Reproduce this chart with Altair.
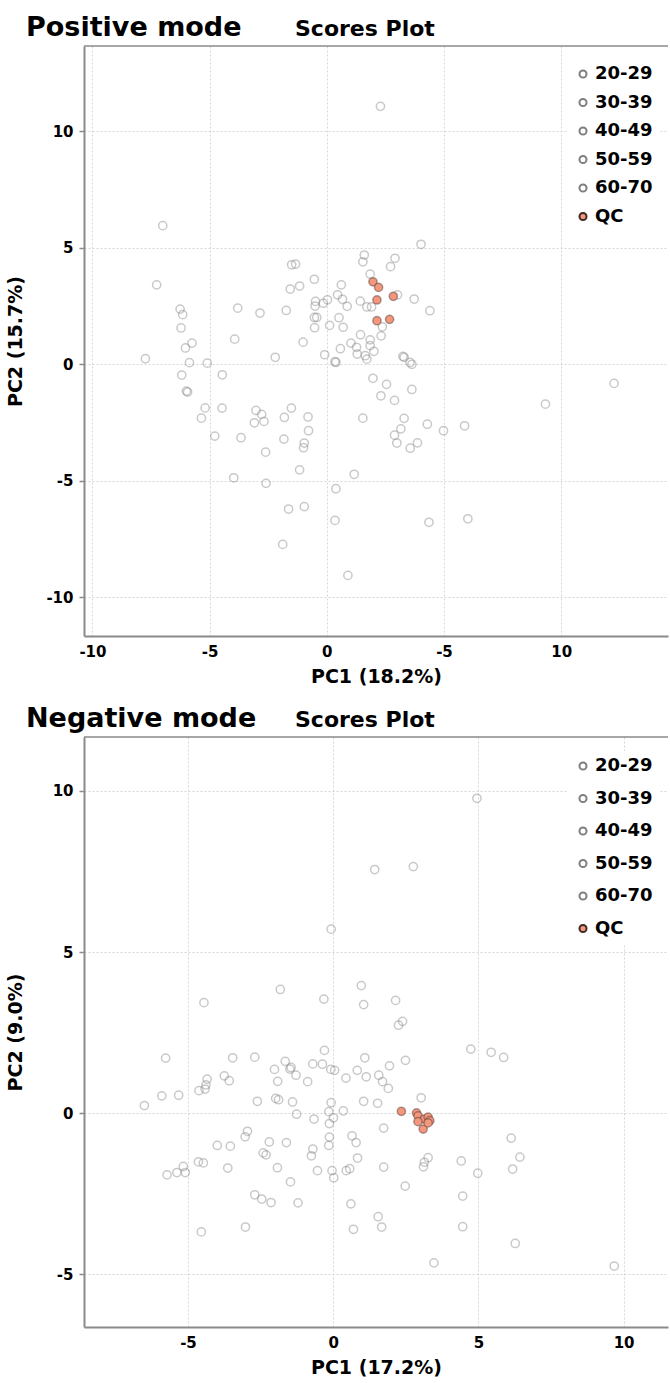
import altair as alt
import pandas as pd

GROUPS = ["20-29", "30-39", "40-49", "50-59", "60-70", "QC"]

# ---------------- Positive mode (PC1, PC2) ----------------
pos_20_29 = [(-7.00, 5.94), (-7.26, 3.40), (-1.50, 4.26), (-1.33, 4.29), (1.60, 4.68), (1.54, 4.39),
             (1.85, 3.86), (-0.53, 3.64), (0.62, 3.40), (-1.56, 3.22), (-1.16, 3.35), (0.46, 2.97),
             (0.67, 2.78), (-0.48, 2.69), (-0.15, 2.61), (0.03, 2.76), (-0.50, 2.49), (0.87, 2.48),
             (1.43, 2.70), (1.71, 2.45), (1.91, 2.45), (-6.26, 2.36), (-6.15, 2.12), (-3.80, 2.40)]
pos_30_39 = [(-2.85, 2.19), (-1.73, 2.30), (-6.22, 1.55), (-0.53, 2.00), (-0.43, 2.00), (0.52, 1.99),
             (0.12, 1.66), (0.70, 1.58), (-0.52, 1.56), (1.44, 1.26), (1.85, 1.04), (-3.93, 1.07),
             (-5.75, 0.90), (-6.03, 0.69), (-1.01, 0.94), (1.03, 0.90), (1.27, 0.72), (0.58, 0.66),
             (1.85, 0.79), (2.01, 0.55), (-7.74, 0.23), (1.30, 0.43), (1.64, 0.36), (1.71, 0.21)]
pos_40_49 = [(-0.09, 0.40), (0.35, 0.10), (0.39, 0.07), (-2.20, 0.29), (-5.86, 0.06), (-5.10, 0.04),
             (2.32, 1.21), (3.25, 0.33), (3.30, 0.29), (3.55, 0.07), (3.63, -0.01), (-6.19, -0.47),
             (-4.46, -0.46), (-5.99, -1.16), (-5.94, -1.20), (1.97, -0.61), (2.55, -0.87), (3.63, -1.09),
             (2.31, -1.36), (2.89, -1.56), (-5.19, -1.88), (-4.47, -1.89), (-5.35, -2.32), (-3.02, -1.99)]
pos_50_59 = [(-2.78, -2.16), (-3.09, -2.52), (-2.68, -2.46), (-1.81, -2.29), (-1.51, -1.89), (-0.80, -2.27),
             (-0.78, -2.86), (1.54, -2.32), (3.30, -2.33), (3.16, -2.78), (4.29, -2.58), (4.98, -2.86),
             (5.88, -2.65), (2.89, -3.05), (2.99, -3.39), (3.56, -3.61), (3.87, -3.38), (-4.78, -3.09),
             (-3.66, -3.16), (-1.83, -3.22), (-0.96, -3.39), (-0.99, -3.59), (-2.61, -3.78), (-1.16, -4.54)]
pos_60_70 = [(1.17, -4.73), (-3.97, -4.88), (-2.59, -5.12), (0.39, -5.35), (-1.63, -6.22), (-0.96, -6.12),
             (0.35, -6.71), (4.36, -6.79), (6.02, -6.64), (-1.88, -7.74), (0.90, -9.07), (2.29, 11.06),
             (4.02, 5.14), (2.91, 4.54), (2.72, 4.18), (3.02, 2.97), (3.73, 2.79), (4.40, 2.29),
             (2.37, 1.60), (9.33, -1.72), (12.26, -0.83)]
pos_qc = [(1.97, 3.53), (2.21, 3.29), (2.14, 2.75), (2.84, 2.91), (2.14, 1.86), (2.68, 1.92)]

# ---------------- Negative mode (PC1, PC2) ----------------
neg_20_29 = [(1.43, 7.56), (-0.07, 5.71), (0.97, 3.96), (-1.82, 3.84), (-4.45, 3.43), (-0.32, 3.54),
             (1.05, 3.37), (4.95, 9.77), (2.76, 7.65), (2.15, 3.50), (2.39, 2.85), (2.25, 2.73),
             (-0.30, 1.95), (-5.77, 1.71), (-3.46, 1.72), (-2.70, 1.74), (1.09, 1.72), (2.49, 1.64),
             (4.74, 1.99), (5.44, 1.89), (5.87, 1.73), (-1.65, 1.61), (-1.45, 1.42), (-1.49, 1.37)]
neg_30_39 = [(-1.28, 1.18), (-0.70, 1.53), (-0.37, 1.52), (-0.08, 1.36), (0.05, 1.33), (-2.02, 1.36),
             (0.83, 1.33), (1.94, 1.47), (-3.75, 1.16), (-3.58, 1.01), (-4.34, 1.06), (-4.38, 0.88),
             (-4.41, 0.75), (-4.62, 0.70), (-1.91, 0.99), (-0.88, 0.98), (0.44, 1.09), (1.14, 1.13),
             (1.57, 1.18), (1.70, 0.98), (1.90, 0.77), (-5.90, 0.54), (-5.32, 0.56), (-6.50, 0.24)]
neg_40_49 = [(-2.61, 0.37), (-1.98, 0.46), (-1.88, 0.42), (-1.40, 0.35), (-0.07, 0.33), (1.05, 0.37),
             (1.53, 0.31), (3.03, 0.48), (-1.26, -0.03), (-0.15, 0.05), (0.35, 0.07), (0.01, -0.14),
             (-0.66, -0.18), (-0.13, -0.32), (1.74, -0.46), (-2.95, -0.56), (-3.03, -0.73), (-0.13, -0.74),
             (-0.15, -1.00), (0.65, -0.70), (0.79, -0.91), (6.13, -0.77), (-3.99, -1.00), (-3.54, -1.02)]
neg_50_59 = [(-2.20, -0.89), (-1.61, -0.91), (-0.70, -1.11), (-0.75, -1.32), (-2.41, -1.23), (-2.31, -1.29),
             (0.84, -1.39), (3.27, -1.38), (3.14, -1.52), (3.11, -1.66), (6.43, -1.36), (-4.64, -1.51),
             (-4.47, -1.54), (-5.16, -1.65), (-5.38, -1.84), (-5.09, -1.84), (-5.72, -1.91), (-3.63, -1.70),
             (-1.92, -1.69), (-0.54, -1.78), (-0.04, -1.78), (0.02, -2.00), (0.45, -1.78), (0.57, -1.72)]
neg_60_70 = [(1.74, -1.67), (4.41, -1.48), (4.98, -1.86), (6.18, -1.73), (-1.47, -2.13), (2.48, -2.26),
             (-2.70, -2.53), (-2.46, -2.66), (-2.14, -2.77), (-1.21, -2.78), (0.61, -2.81), (4.46, -2.57),
             (1.55, -3.21), (1.67, -3.53), (0.70, -3.60), (-3.02, -3.53), (-4.54, -3.68), (4.46, -3.52),
             (6.27, -4.04), (3.47, -4.64), (9.68, -4.74)]
neg_qc = [(2.35, 0.06), (2.87, 0.01), (2.92, -0.08), (3.14, -0.18), (3.27, -0.12), (3.33, -0.23),
          (2.92, -0.26), (3.10, -0.49), (3.27, -0.30)]

POS_TICKS_X = [-10, -5, 0, 5, 10]
POS_TICKS_Y = [-10, -5, 0, 5, 10]
NEG_TICKS_X = [-5, 0, 5, 10]
NEG_TICKS_Y = [-5, 0, 5, 10]

FONT = "DejaVu Sans"
W, H = 584, 590


def make_frame(lists):
    rows = []
    for g, pts in zip(GROUPS, lists):
        for x, y in pts:
            rows.append({"pc1": x, "pc2": y, "group": g, "qc": 1 if g == "QC" else 0})
    return pd.DataFrame(rows)


def panel(df, xdom, ydom, xticks, yticks, xtitle, ytitle, mode, row_pad, legend_y, label_expr):
    legend = alt.Legend(
        title=None, orient="none", legendX=484, legendY=legend_y, fillColor="white",
        padding=6, labelFont=FONT, labelFontWeight="bold", labelFontSize=18,
        labelColor="black", symbolSize=50, symbolStrokeWidth=2, rowPadding=row_pad,
        labelOffset=3, symbolType="circle", symbolOpacity=1,
    )
    xaxis = alt.Axis(
        values=xticks, title=xtitle, grid=True, gridDash=[2, 2], gridColor="#d6d6d6",
        ticks=False, domainColor="#8a8a8a", domainWidth=2, labelFont=FONT,
        labelFontWeight="bold", labelFontSize=15, labelColor="black", labelPadding=8,
        titleFont=FONT, titleFontWeight="bold", titleFontSize=19, titleColor="black",
        titlePadding=8, labelExpr=label_expr,
    )
    yaxis = alt.Axis(
        values=yticks, title=ytitle, grid=True, gridDash=[2, 2], gridColor="#d6d6d6",
        tickSize=5, tickColor="#8a8a8a", tickWidth=1.5, domainColor="#8a8a8a",
        domainWidth=2, labelFont=FONT, labelFontWeight="bold", labelFontSize=15,
        labelColor="black", labelPadding=6, titleFont=FONT, titleFontWeight="bold",
        titleFontSize=19, titleColor="black", titlePadding=19, minExtent=40, maxExtent=40,
        labelExpr="'' + datum.value",
    )
    pts = alt.Chart(df).mark_point(shape="circle", filled=True, size=68, strokeWidth=1.5, opacity=1).encode(
        x=alt.X("pc1:Q", scale=alt.Scale(domain=xdom, nice=False, zero=False), axis=xaxis),
        y=alt.Y("pc2:Q", scale=alt.Scale(domain=ydom, nice=False, zero=False), axis=yaxis),
        fill=alt.Fill("group:N", scale=alt.Scale(domain=GROUPS, range=["transparent"] * 5 + ["#F5977D"]),
                      legend=legend),
        stroke=alt.Stroke("group:N", scale=alt.Scale(domain=GROUPS, range=["#7f7f7f"] * 5 + ["#3f2a25"]),
                          legend=legend),
        strokeOpacity=alt.StrokeOpacity("group:N", scale=alt.Scale(domain=GROUPS, range=[0.42] * 5 + [1.0]),
                                        legend=None),
        order=alt.Order("qc:Q", sort="ascending"),
    )
    border = alt.Chart(pd.DataFrame({"k": [0]})).mark_rule(color="#8a8a8a", strokeWidth=1.5).encode(
        x=alt.value(0), x2=alt.value(W), y=alt.value(0)
    )
    t1 = alt.Chart(pd.DataFrame({"t": [mode]})).mark_text(
        font=FONT, fontWeight="bold", fontSize=27, align="left", baseline="alphabetic", color="black"
    ).encode(text="t:N", x=alt.value(-58), y=alt.value(-10))
    t2 = alt.Chart(pd.DataFrame({"t": ["Scores Plot"]})).mark_text(
        font=FONT, fontWeight="bold", fontSize=22, align="left", baseline="alphabetic", color="black"
    ).encode(text="t:N", x=alt.value(211), y=alt.value(-10))
    return alt.layer(pts, border, t1, t2).properties(width=W, height=H)


pos_df = make_frame([pos_20_29, pos_30_39, pos_40_49, pos_50_59, pos_60_70, pos_qc])
neg_df = make_frame([neg_20_29, neg_30_39, neg_40_49, neg_50_59, neg_60_70, neg_qc])

top = panel(pos_df, [-10.36, 14.56], [-11.67, 13.65], POS_TICKS_X, POS_TICKS_Y,
            "PC1 (18.2%)", "PC2 (15.7%)", "Positive mode", 10.5, 13,
            "datum.value == 5 ? '-5' : '' + datum.value")
bottom = panel(neg_df, [-8.58, 11.53], [-6.63, 11.67], NEG_TICKS_X, NEG_TICKS_Y,
               "PC1 (17.2%)", "PC2 (9.0%)", "Negative mode", 14.5, 14,
               "'' + datum.value")

chart = alt.vconcat(top, bottom, spacing=19).properties(
    padding={"left": 6, "top": 14, "right": 0, "bottom": 0}
).configure_view(stroke=None).resolve_scale(fill="independent", stroke="independent")

chart.save("out.html", embed_options={"renderer": "svg", "actions": False})
